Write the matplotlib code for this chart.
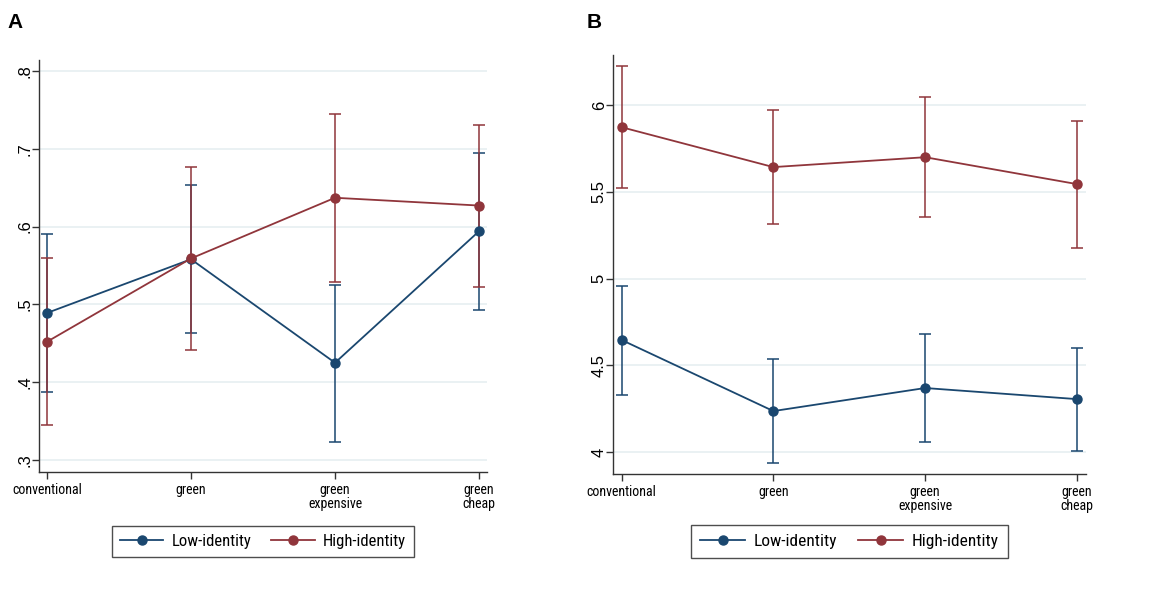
import numpy as np
import matplotlib
matplotlib.use('Agg')
import matplotlib.pyplot as plt
from matplotlib import font_manager
from matplotlib.lines import Line2D

# categories and estimates
categories = ['conventional', 'green', 'green\nexpensive', 'green\ncheap']

# panel A
a_low = [0.489, 0.558, 0.425, 0.594]
a_low_lo = [0.388, 0.463, 0.323, 0.493]
a_low_hi = [0.591, 0.653, 0.525, 0.695]
a_high = [0.452, 0.559, 0.637, 0.627]
a_high_lo = [0.345, 0.441, 0.529, 0.522]
a_high_hi = [0.560, 0.677, 0.744, 0.731]
a_ticks = [0.3, 0.4, 0.5, 0.6, 0.7, 0.8]
a_ticklabels = ['.3', '.4', '.5', '.6', '.7', '.8']

# panel B
b_low = [4.646, 4.236, 4.369, 4.305]
b_low_lo = [4.330, 3.937, 4.058, 4.006]
b_low_hi = [4.960, 4.536, 4.680, 4.600]
b_high = [5.873, 5.643, 5.700, 5.545]
b_high_lo = [5.520, 5.314, 5.354, 5.176]
b_high_hi = [6.225, 5.971, 6.046, 5.908]
b_ticks = [4, 4.5, 5, 5.5, 6]
b_ticklabels = ['4', '4.5', '5', '5.5', '6']

navy = '#1a476f'
maroon = '#90353b'
grid_col = '#e6eff1'

names = {f.name for f in font_manager.fontManager.ttflist}
narrow = None
for cand in ['Liberation Sans Narrow', 'Roboto Condensed', 'DejaVu Sans Condensed',
             'Open Sans Condensed', 'Noto Sans Display']:
    if cand in names:
        narrow = cand
        break
if narrow is None:
    cond = sorted(n for n in names if 'Condensed' in n or 'Narrow' in n)
    narrow = cond[0] if cond else 'Liberation Sans'
plt.rcParams['font.family'] = ['Liberation Sans', 'DejaVu Sans']

fig = plt.figure(figsize=(11.7, 5.89), dpi=100)


def panel(rect, low, low_lo, low_hi, high, high_lo, high_hi,
          ticks, ticklabels, ylim, xlim):
    ax = fig.add_axes(rect)
    x = np.arange(len(categories))
    for y, lo, hi, col in [(low, low_lo, low_hi, navy),
                           (high, high_lo, high_hi, maroon)]:
        y = np.array(y)
        err = [y - np.array(lo), np.array(hi) - y]
        ax.errorbar(x, y, yerr=err, color=col, ecolor=col, elinewidth=1.1,
                    capsize=4.5, capthick=1.1, lw=1.3, marker='o',
                    markersize=6.5)
    ax.set_xlim(*xlim)
    ax.set_ylim(*ylim)
    ax.set_xticks(x)
    ax.set_xticklabels(categories, fontfamily=narrow, fontsize=10,
                       linespacing=0.95)
    ax.set_yticks(ticks)
    ax.set_yticklabels(ticklabels, rotation=90, va='center', fontsize=12)
    ax.grid(axis='y', color=grid_col, lw=1.2)
    ax.set_axisbelow(True)
    for s in ['top', 'right']:
        ax.spines[s].set_visible(False)
    for s in ['left', 'bottom']:
        ax.spines[s].set_color('#333333')
        ax.spines[s].set_linewidth(1.0)
    ax.tick_params(length=5, width=1, color='#333333')
    ax.tick_params(axis='x', pad=3)
    ax.tick_params(axis='y', pad=-0.5)
    return ax


axA = panel([0.0333, 0.1986, 0.383, 0.6995], a_low, a_low_lo, a_low_hi,
            a_high, a_high_lo, a_high_hi, a_ticks, a_ticklabels,
            (0.2846, 0.814), (-0.056, 3.056))
axB = panel([0.5239, 0.1952, 0.4043, 0.711], b_low, b_low_lo, b_low_hi,
            b_high, b_high_lo, b_high_hi, b_ticks, b_ticklabels,
            (3.873, 6.288), (-0.057, 3.06))

handles = [Line2D([], [], color=navy, lw=1.3, marker='o', markersize=6.5),
           Line2D([], [], color=maroon, lw=1.3, marker='o', markersize=6.5)]
labels = ['Low-identity', 'High-identity']
for cx, size in [(0.2248, 12), (0.726, 12.5)]:
    leg = fig.legend(handles, labels, loc='center', bbox_to_anchor=(cx, 0.0806),
                     ncol=2, frameon=True, fancybox=False, edgecolor='#222222',
                     prop={'family': narrow, 'size': size}, handlelength=2.6,
                     columnspacing=1.2, borderpad=0.5, handletextpad=0.5,
                     borderaxespad=0)
    leg.get_frame().set_linewidth(1.0)

fig.text(0.006, 0.962, 'A', fontsize=15, fontweight='bold', va='center')
fig.text(0.501, 0.962, 'B', fontsize=15, fontweight='bold', va='center')

fig.savefig('out.png', dpi=100)
